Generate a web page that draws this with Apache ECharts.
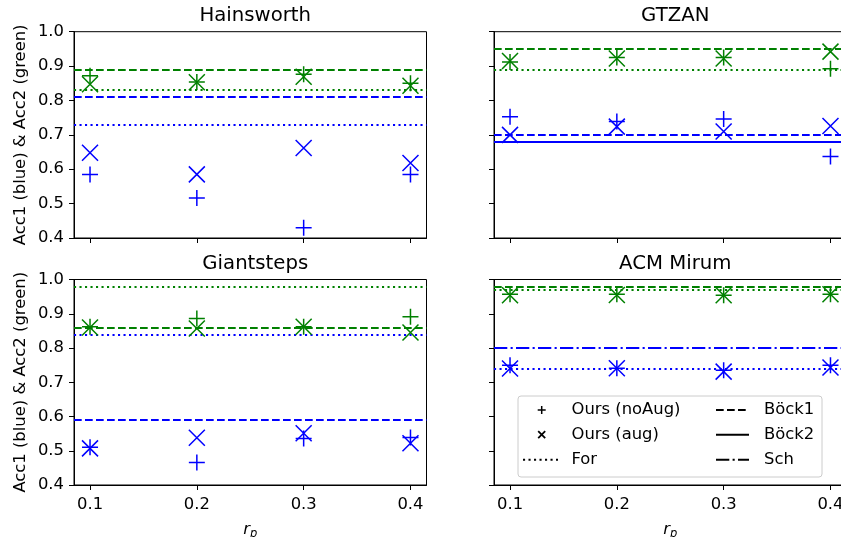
<!DOCTYPE html>
<html>
<head>
<meta charset="utf-8">
<script src="https://cdn.jsdelivr.net/npm/echarts@6/dist/echarts.min.js"></script>
<style>
html,body{margin:0;padding:0;background:#fff;}
#c{width:841px;height:537px;}
</style>
</head>
<body>
<div id="c"></div>
<script>
// ---------- data ----------
const rp = [0.1, 0.2, 0.3, 0.4];
const datasets = ['Hainsworth', 'GTZAN', 'Giantsteps', 'ACM Mirum'];

// Hainsworth
const hainsAcc1NoAug = [0.585, 0.516, 0.430, 0.585];
const hainsAcc1Aug   = [0.648, 0.585, 0.662, 0.618];
const hainsAcc2NoAug = [0.872, 0.854, 0.876, 0.850];
const hainsAcc2Aug   = [0.847, 0.853, 0.869, 0.843];
const hainsBock1 = [0.805, 0.893];   // [Acc1, Acc2]
const hainsBock2 = [null, null];
const hainsFor   = [0.735, 0.830];
const hainsSch   = [null, null];

// GTZAN
const gtzanAcc1NoAug = [0.753, 0.739, 0.746, 0.637];
const gtzanAcc1Aug   = [0.700, 0.724, 0.710, 0.726];
const gtzanAcc2NoAug = [0.912, 0.925, 0.925, 0.892];
const gtzanAcc2Aug   = [0.915, 0.922, 0.922, 0.942];
const gtzanBock1 = [0.697, 0.949];
const gtzanBock2 = [0.676, null];
const gtzanFor   = [null, 0.894];
const gtzanSch   = [null, null];

// Giantsteps
const giantAcc1NoAug = [0.510, 0.466, 0.536, 0.539];
const giantAcc1Aug   = [0.507, 0.538, 0.551, 0.522];
const giantAcc2NoAug = [0.862, 0.886, 0.862, 0.891];
const giantAcc2Aug   = [0.860, 0.857, 0.862, 0.845];
const giantBock1 = [0.588, 0.862];
const giantBock2 = [null, null];
const giantFor   = [0.836, 0.982];
const giantSch   = [null, null];

// ACM Mirum
const acmAcc1NoAug = [0.750, 0.741, 0.735, 0.750];
const acmAcc1Aug   = [0.740, 0.741, 0.731, 0.743];
const acmAcc2NoAug = [0.957, 0.957, 0.954, 0.957];
const acmAcc2Aug   = [0.954, 0.955, 0.954, 0.957];
const acmBock1 = [null, 0.981];
const acmBock2 = [null, null];
const acmFor   = [0.736, 0.967];
const acmSch   = [0.797, null];

const yTicks = [0.4, 0.5, 0.6, 0.7, 0.8, 0.9, 1.0];
const xTicks = [0.1, 0.2, 0.3, 0.4];

// ---------- styling ----------
const BLUE = '#0000ff', GREEN = '#008000';
const FONT = 'DejaVu Sans';
const FS = 16.4, TFS = 19.7;
const PLUS = 'path://M0,-1L0,1M-1,0L1,0';
const CROSS = 'path://M-1,-1L1,1M-1,1L1,-1';
const DASH = {
  'Böck1': [7.7, 3.3],
  'Böck2': 'solid',
  'For': [2.1, 3.4],
  'Sch': [13.3, 3.3, 2.1, 3.3]
};

const panels = [
  {n1: hainsAcc1NoAug, a1: hainsAcc1Aug, n2: hainsAcc2NoAug, a2: hainsAcc2Aug,
   refs: {'Böck1': hainsBock1, 'Böck2': hainsBock2, 'For': hainsFor, 'Sch': hainsSch}},
  {n1: gtzanAcc1NoAug, a1: gtzanAcc1Aug, n2: gtzanAcc2NoAug, a2: gtzanAcc2Aug,
   refs: {'Böck1': gtzanBock1, 'Böck2': gtzanBock2, 'For': gtzanFor, 'Sch': gtzanSch}},
  {n1: giantAcc1NoAug, a1: giantAcc1Aug, n2: giantAcc2NoAug, a2: giantAcc2Aug,
   refs: {'Böck1': giantBock1, 'Böck2': giantBock2, 'For': giantFor, 'Sch': giantSch}},
  {n1: acmAcc1NoAug, a1: acmAcc1Aug, n2: acmAcc2NoAug, a2: acmAcc2Aug,
   refs: {'Böck1': acmBock1, 'Böck2': acmBock2, 'For': acmFor, 'Sch': acmSch}}
];

const gridPos = [
  {left: 74, top: 31.7, width: 352.5, height: 206.3},
  {left: 494, top: 31.7, width: 352.5, height: 206.3},
  {left: 74, top: 279.5, width: 352.5, height: 205.5},
  {left: 494, top: 279.5, width: 352.5, height: 205.5}
];

const grids = [], xAxes = [], yAxes = [], series = [], titles = [];

gridPos.forEach((g, i) => {
  grids.push(Object.assign({show: true, borderColor: '#000', borderWidth: 1,
    backgroundColor: 'transparent', containLabel: false, outerBoundsMode: 'none'}, g));
  const isBottom = i >= 2, isLeft = i % 2 === 0;
  xAxes.push({
    type: 'value', gridIndex: i, min: 0.085, max: 0.415,
    axisLine: {show: true, onZero: false, lineStyle: {color: '#000', width: 1}},
    axisTick: {show: true, length: 5, lineStyle: {color: '#000', width: 1}, customValues: xTicks},
    axisLabel: {show: isBottom, customValues: xTicks, formatter: v => v.toFixed(1),
      color: '#000', fontFamily: FONT, fontSize: FS, margin: 12},
    splitLine: {show: false},
    name: isBottom ? '{r|r}{p|p}' : '',
    nameLocation: 'middle', nameGap: 34,
    nameTextStyle: {rich: {
      r: {fontFamily: FONT, fontStyle: 'italic', fontSize: FS, color: '#000'},
      p: {fontFamily: FONT, fontStyle: 'italic', fontSize: 11.5, color: '#000', padding: [9, 0, 0, 0]}
    }}
  });
  yAxes.push({
    type: 'value', gridIndex: i, min: 0.4, max: 1.0, interval: 0.1,
    axisLine: {show: true, onZero: false, lineStyle: {color: '#000', width: 1}},
    axisTick: {show: true, length: 5, lineStyle: {color: '#000', width: 1}},
    axisLabel: {show: isLeft, formatter: v => v.toFixed(1), color: '#000',
      fontFamily: FONT, fontSize: FS, margin: 10},
    splitLine: {show: false},
    name: isLeft ? 'Acc1 (blue) & Acc2 (green)' : '',
    nameLocation: 'middle', nameGap: 45,
    nameTextStyle: {fontFamily: FONT, fontSize: FS, color: '#000'}
  });
  titles.push({
    text: datasets[i], left: g.left + g.width / 2, top: g.top - 31, textAlign: 'center',
    textStyle: {fontFamily: FONT, fontSize: TFS, fontWeight: 'normal', color: '#000'}
  });

  const p = panels[i];
  const markData = [];
  Object.keys(p.refs).forEach(k => {
    const v = p.refs[k];
    if (v[0] != null) markData.push({yAxis: v[0], lineStyle: {color: BLUE, type: DASH[k], width: 2}});
    if (v[1] != null) markData.push({yAxis: v[1], lineStyle: {color: GREEN, type: DASH[k], width: 2}});
  });
  const mk = (vals, sym, col, withLines) => {
    const s = {
      type: 'scatter', xAxisIndex: i, yAxisIndex: i,
      data: rp.map((x, j) => [x, vals[j]]),
      symbol: sym, symbolSize: 16,
      itemStyle: {color: col, borderColor: col, borderWidth: 1.5, opacity: 1},
      emphasis: {disabled: true}, silent: true, animation: false, z: 3
    };
    if (withLines) {
      s.markLine = {silent: true, symbol: ['none', 'none'], label: {show: false},
        animation: false, data: markData, z: 2};
    }
    return s;
  };
  series.push(mk(p.n1, PLUS, BLUE, true));
  series.push(mk(p.a1, CROSS, BLUE, false));
  series.push(mk(p.n2, PLUS, GREEN, false));
  series.push(mk(p.a2, CROSS, GREEN, false));
});

// ---------- legend (drawn in ACM Mirum panel) ----------
const LX = 518, LY = 396;
const rowY = [410, 434.7, 459.7];
const txtStyle = (t, x, y) => ({type: 'text', z: 101, style: {text: t, x: x, y: y, fill: '#000',
  fontFamily: FONT, fontSize: FS, verticalAlign: 'middle', align: 'left'}});
const seg = (x1, y1, x2, y2, dash, w) => ({type: 'line', z: 101,
  shape: {x1: x1, y1: y1, x2: x2, y2: y2},
  style: {stroke: '#000', lineWidth: w || 2, lineDash: dash === 'solid' ? null : dash}});
const legendEls = [
  {type: 'rect', z: 100, shape: {x: LX, y: LY, width: 304, height: 81, r: 3},
   style: {fill: 'rgba(255,255,255,0.8)', stroke: '#cccccc', lineWidth: 1}},
  // + marker
  seg(541.7, rowY[0] - 4, 541.7, rowY[0] + 4, 'solid', 1.5),
  seg(537.7, rowY[0], 545.7, rowY[0], 'solid', 1.5),
  // x marker
  seg(538.2, rowY[1] - 3.5, 545.2, rowY[1] + 3.5, 'solid', 1.8),
  seg(538.2, rowY[1] + 3.5, 545.2, rowY[1] - 3.5, 'solid', 1.8),
  // For (dotted)
  seg(523, rowY[2], 558, rowY[2], DASH['For']),
  txtStyle('Ours (noAug)', 571.5, rowY[0]),
  txtStyle('Ours (aug)', 571.5, rowY[1]),
  txtStyle('For', 571.5, rowY[2]),
  seg(716, rowY[0], 749, rowY[0], DASH['Böck1']),
  seg(716, rowY[1], 749, rowY[1], 'solid'),
  seg(716, rowY[2], 749, rowY[2], DASH['Sch']),
  txtStyle('Böck1', 764, rowY[0]),
  txtStyle('Böck2', 764, rowY[1]),
  txtStyle('Sch', 764, rowY[2])
];

const chart = echarts.init(document.getElementById('c'), null, {renderer: 'canvas'});
chart.setOption({
  animation: false,
  backgroundColor: '#fff',
  title: titles,
  grid: grids,
  xAxis: xAxes,
  yAxis: yAxes,
  series: series,
  graphic: legendEls
});
</script>
</body>
</html>
